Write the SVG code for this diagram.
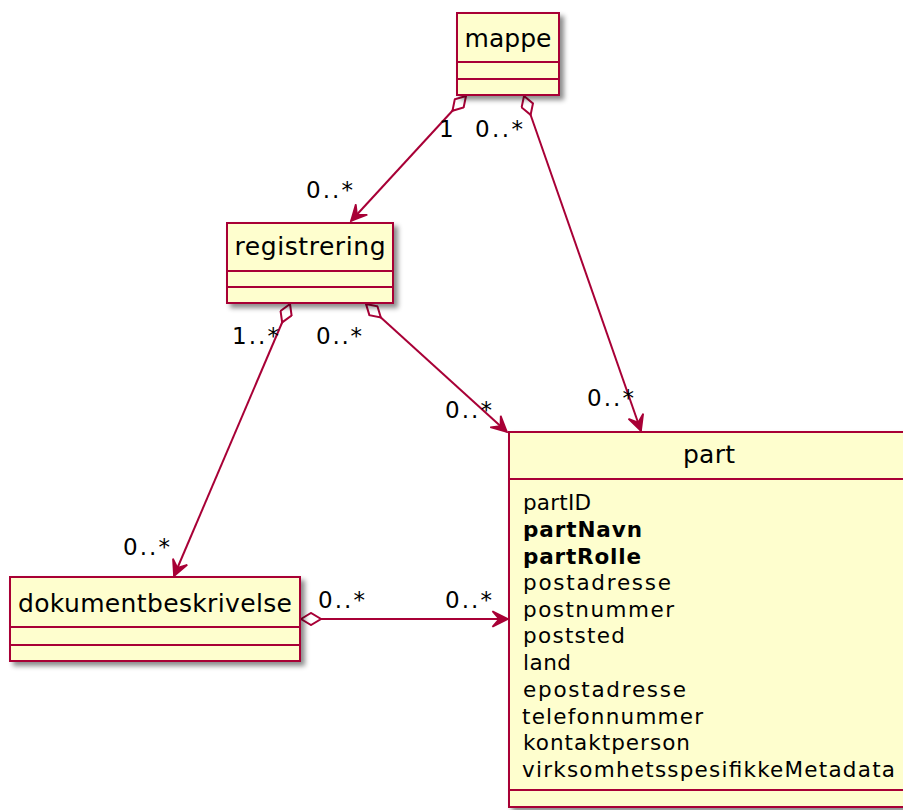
<svg xmlns="http://www.w3.org/2000/svg" width="903" height="810" viewBox="0 0 903 810">
  <style>
    .box { fill: #FEFECE; stroke: #A80036; stroke-width: 2; filter: url(#shadow); }
    .sep { stroke: #A80036; stroke-width: 2; }
    .title { font-family: "DejaVu Sans", sans-serif; font-size: 25px; fill: #000; text-anchor: middle; }
    .attr { font-family: "DejaVu Sans", sans-serif; font-size: 21.5px; fill: #000; }
    .bold { font-weight: bold; }
    .edge { fill: none; stroke: #A80036; stroke-width: 2; }
    .mult { font-family: "DejaVu Sans", sans-serif; font-size: 23px; fill: #000; }
  </style>
  <defs>
    <filter id="shadow" x="-10%" y="-10%" width="130%" height="130%">
      <feDropShadow dx="4" dy="4" stdDeviation="2.5" flood-color="#000" flood-opacity="0.45"/>
    </filter>
    <marker id="arrow" markerUnits="userSpaceOnUse" markerWidth="20" markerHeight="20" viewBox="-16 -9 18 18" refX="0" refY="0" orient="auto">
      <path d="M0,0 L-14,-7 L-8,0 L-14,7 Z" fill="#A80036" stroke="#A80036" stroke-width="1.5" stroke-linejoin="miter"/>
    </marker>
    <marker id="diamond" markerUnits="userSpaceOnUse" markerWidth="24" markerHeight="14" viewBox="-1 -7 23 14" refX="0" refY="0" orient="auto">
      <path d="M0,0 L10,-6 L20,0 L10,6 Z" fill="#FFFFFF" stroke="#A80036" stroke-width="2"/>
    </marker>
  </defs>

  <!-- associations -->
  <g id="connectors">
    <path class="edge" d="M466,96 L351,221" marker-start="url(#diamond)" marker-end="url(#arrow)"/>
    <path class="edge" d="M524,96 L641,431" marker-start="url(#diamond)" marker-end="url(#arrow)"/>
    <path class="edge" d="M290,304 L174,576" marker-start="url(#diamond)" marker-end="url(#arrow)"/>
    <path class="edge" d="M366,304 L507,432" marker-start="url(#diamond)" marker-end="url(#arrow)"/>
    <path class="edge" d="M301,619 L508,619" marker-start="url(#diamond)" marker-end="url(#arrow)"/>

    <text class="mult" x="439" y="137">1</text>
    <text class="mult" x="475" y="137" textLength="48" lengthAdjust="spacing">0..*</text>
    <text class="mult" x="306" y="198" textLength="47" lengthAdjust="spacing">0..*</text>
    <text class="mult" x="587" y="406" textLength="47" lengthAdjust="spacing">0..*</text>
    <text class="mult" x="232" y="344" textLength="47" lengthAdjust="spacing">1..*</text>
    <text class="mult" x="316" y="344" textLength="46" lengthAdjust="spacing">0..*</text>
    <text class="mult" x="445" y="418" textLength="47" lengthAdjust="spacing">0..*</text>
    <text class="mult" x="123" y="555" textLength="47" lengthAdjust="spacing">0..*</text>
    <text class="mult" x="318" y="608" textLength="47" lengthAdjust="spacing">0..*</text>
    <text class="mult" x="445" y="608" textLength="47" lengthAdjust="spacing">0..*</text>
  </g>

  <g id="mappe">
    <rect class="box" x="457" y="13" width="102" height="82"/>
    <line class="sep" x1="457" y1="62" x2="559" y2="62"/>
    <line class="sep" x1="457" y1="79" x2="559" y2="79"/>
    <text class="title" x="508" y="47" textLength="87" lengthAdjust="spacing">mappe</text>
  </g>

  <g id="registrering">
    <rect class="box" x="227" y="223" width="166" height="80"/>
    <line class="sep" x1="227" y1="271" x2="393" y2="271"/>
    <line class="sep" x1="227" y1="287" x2="393" y2="287"/>
    <text class="title" x="310" y="255" textLength="151" lengthAdjust="spacing">registrering</text>
  </g>

  <g id="dokumentbeskrivelse">
    <rect class="box" x="10" y="577" width="290" height="84"/>
    <line class="sep" x1="10" y1="627" x2="300" y2="627"/>
    <line class="sep" x1="10" y1="645" x2="300" y2="645"/>
    <text class="title" x="155" y="612" textLength="274" lengthAdjust="spacing">dokumentbeskrivelse</text>
  </g>

  <g id="part">
    <rect class="box" x="509" y="432" width="400" height="375"/>
    <line class="sep" x1="509" y1="479" x2="909" y2="479"/>
    <line class="sep" x1="509" y1="790" x2="909" y2="790"/>
    <text class="title" x="709" y="463" textLength="52" lengthAdjust="spacing">part</text>
    <text class="attr" x="523" y="510" textLength="68" lengthAdjust="spacing">partID</text>
    <text class="attr bold" x="523" y="537" textLength="119" lengthAdjust="spacing">partNavn</text>
    <text class="attr bold" x="523" y="564" textLength="118" lengthAdjust="spacing">partRolle</text>
    <text class="attr" x="523" y="590" textLength="148" lengthAdjust="spacing">postadresse</text>
    <text class="attr" x="523" y="617" textLength="151" lengthAdjust="spacing">postnummer</text>
    <text class="attr" x="523" y="643" textLength="102" lengthAdjust="spacing">poststed</text>
    <text class="attr" x="523" y="670" textLength="48" lengthAdjust="spacing">land</text>
    <text class="attr" x="523" y="697" textLength="163" lengthAdjust="spacing">epostadresse</text>
    <text class="attr" x="522" y="724" textLength="181" lengthAdjust="spacing">telefonnummer</text>
    <text class="attr" x="523" y="750" textLength="167" lengthAdjust="spacing">kontaktperson</text>
    <text class="attr" x="522" y="777" textLength="373" lengthAdjust="spacing">virksomhetsspesifikkeMetadata</text>
  </g>
</svg>
